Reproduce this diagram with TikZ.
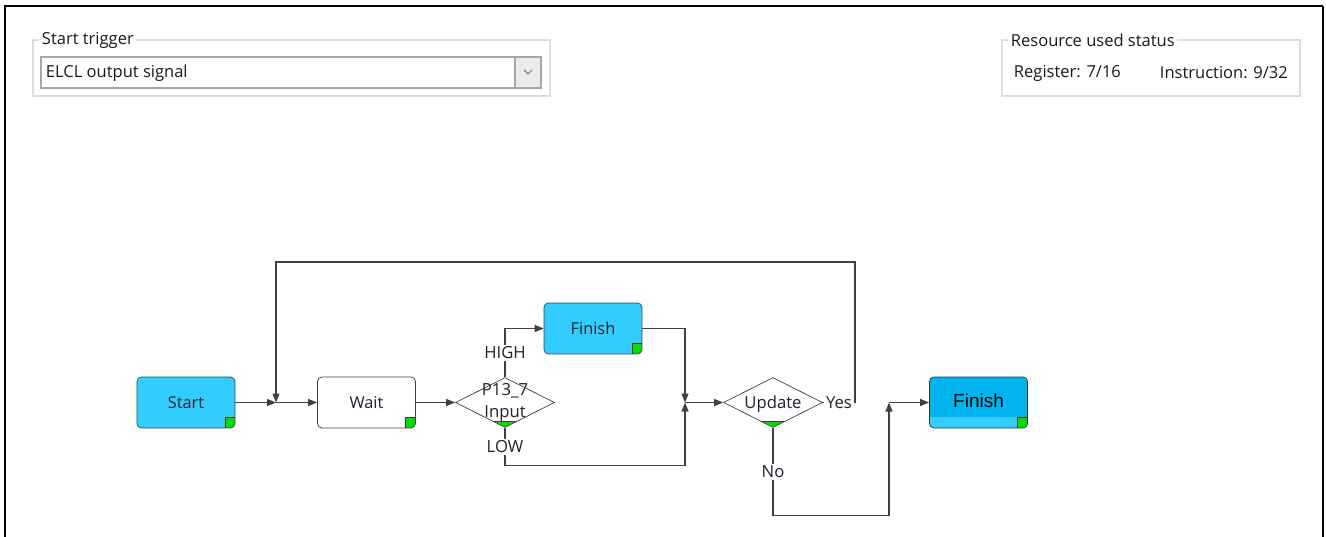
\documentclass[tikz,border=0pt]{standalone}
\usepackage{fontspec}
\setmainfont{Open Sans}
\newfontfamily\arialfont{Liberation Sans}
\usetikzlibrary{arrows.meta,positioning,shapes.geometric}
\definecolor{Cyan}{HTML}{33CCFF}
\definecolor{DeepCyan}{HTML}{00B4F0}
\definecolor{Mark}{HTML}{00E000}
\definecolor{Line}{HTML}{404040}
\definecolor{Frame}{HTML}{DCDCDC}
\definecolor{Ink}{HTML}{1A2430}
\begin{document}
\begin{tikzpicture}[x=0.02cm,y=-0.02cm,
    box/.style={draw=Line,rounded corners=2.5pt,minimum width=1.96cm,minimum height=1.02cm,inner sep=0pt,font=\fontsize{9.3}{10}\selectfont,text=Ink,
      path picture={\filldraw[sharp corners,fill=Mark,draw=black!80,line width=0.4pt] (path picture bounding box.south east) rectangle ++(-0.2cm,0.21cm);}},
    fin/.style={box,draw=black!80,fill=DeepCyan,font=\arialfont\fontsize{10.8}{12}\selectfont,text=black,
      path picture={\fill[sharp corners,Cyan] (path picture bounding box.south west) rectangle ([yshift=0.22cm]path picture bounding box.south east);
        \filldraw[sharp corners,fill=Mark,draw=black!80,line width=0.4pt] (path picture bounding box.south east) rectangle ++(-0.2cm,0.21cm);}},
    dia/.style={diamond,draw=Line,aspect=2,minimum width=1.98cm,minimum height=1cm,inner sep=0pt,fill=white,
      path picture={\fill[Mark] ([xshift=-0.3cm]path picture bounding box.south) rectangle ++(0.6cm,0.12cm);
        \draw[Line,line width=0.5pt] ([xshift=-0.3cm,yshift=0.12cm]path picture bounding box.south) -- ++(0.6cm,0);}},
    lbl/.style={font=\fontsize{9.5}{12.5}\selectfont,text=Ink,inner sep=1pt,fill=white},
    ui/.style={font=\fontsize{9.4}{10}\selectfont,text=black!90,inner sep=1.5pt,anchor=west},
    a/.style={-{Triangle[length=1.8mm,width=1.4mm]},draw=Line,line width=0.6pt}]
  \useasboundingbox (0,0) rectangle (1326,537);
  % window frame
  \draw[line width=1.6pt] (5,537) -- (5,6) -- (1323,6);
  \draw[line width=0.8pt] (1323,6) -- (1323,537);
  % start trigger group
  \draw[Frame,line width=0.6pt] (33,40) rectangle (550,96);
  \node[ui,fill=white] (trg) at (39,40) {Start trigger};
  \draw[black!35,line width=0.6pt] (41,57) rectangle (541,88);
  \draw[black!35,fill=black!8,line width=0.6pt] (515,57) rectangle (541,88);
  \draw[black!55,line width=0.6pt] (524,70) -- (528,74) -- (532,70);
  \node[ui] (sig) at (43,73) {ELCL output signal};
  % resource group
  \draw[Frame,line width=0.6pt] (1002,40) rectangle (1300,96);
  \node[ui,fill=white] (res) at (1008,40) {Resource used status};
  \node[ui] (reg) at (1011,73) {Register: 7/16};
  \node[ui] (ins) at (1157,73) {Instruction: 9/32};
  % flow
  \node[box,fill=Cyan] (s) at (186,402.5) {Start};
  \coordinate (j1) at (276,402.5);
  \node[box,fill=white] (w) at (366.5,402.5) {Wait};
  \node[dia,label={[lbl,fill=none,align=center]center:P13\_7\\Input}] (p) at (505,402.5) {};
  \node[box,fill=Cyan] (f1) at (593,328.5) {Finish};
  \coordinate (j2) at (685,402.5);
  \node[dia,label={[lbl,fill=none,yshift=-1pt]center:Update}] (u) at (773,402.5) {};
  \coordinate (top) at (855,262);
  \coordinate (j3) at (889,402.5);
  \node[fin] (f2) at (978.5,402.5) {\raisebox{2.5pt}{Finish}};
  \draw[a] (s) -- (j1); \draw[a] (j1) -- (w); \draw[a] (w) -- (p);
  \draw[a] (p.north) -- node[lbl]{HIGH} (p.north|-f1) -- (f1);
  \draw[a] (p.south) -- node[lbl]{LOW} ++(0,38) -| (j2);
  \draw[a] (f1) -| (j2);
  \draw[a] (j2) -- (u);
  \draw[a] (u.east) -- node[lbl]{Yes} (top|-u.east) -- (top) -| (j1);
  \draw[a] (u.south) -- node[lbl]{No} ++(0,88) -| (j3);
  \draw[a] (j3) -- (f2);
\end{tikzpicture}
\end{document}
